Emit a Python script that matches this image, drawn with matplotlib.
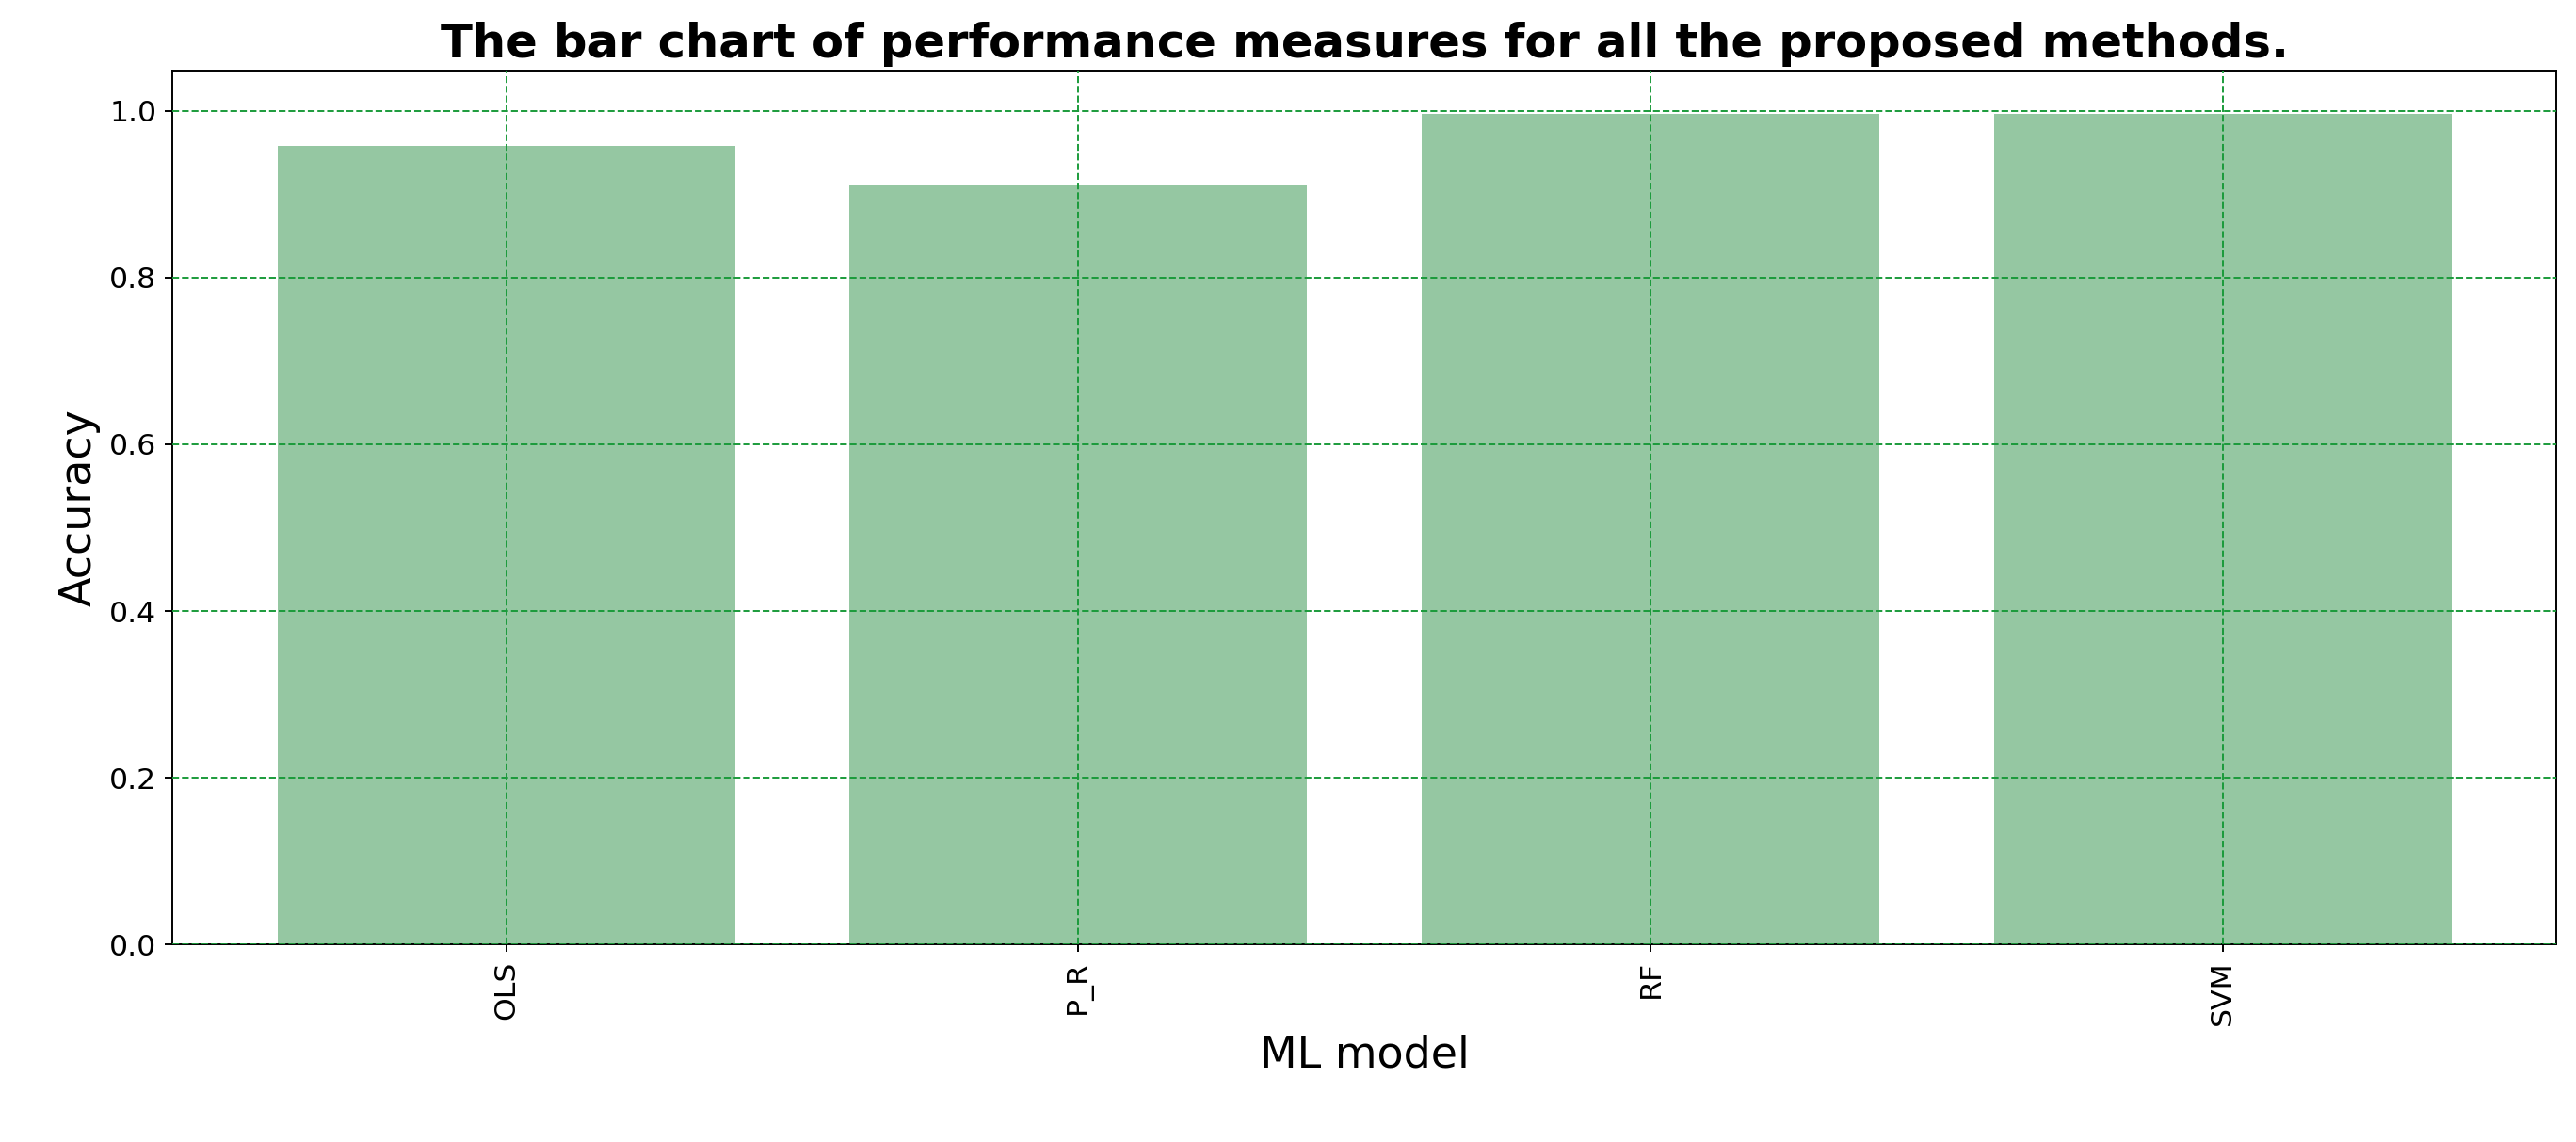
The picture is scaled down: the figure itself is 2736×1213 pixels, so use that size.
import matplotlib
matplotlib.use("Agg")
import matplotlib.pyplot as plt

models = ["OLS", "P_R", "RF", "SVM"]
accuracy = [0.958, 0.910, 0.996, 0.996]

fig = plt.figure(figsize=(15.68, 6.95), dpi=174.55)
ax = fig.add_axes([0.067, 0.173, 0.925, 0.765])
ax.bar(models, accuracy, width=0.8, color="#95c7a2", zorder=1)
ax.grid(True, color="#1a9a3a", linestyle="--", linewidth=0.8, zorder=3)
ax.set_axisbelow(False)
ax.set_ylim(0, 1.048)
ax.set_xlim(-0.583, 3.583)
ax.tick_params(axis="x", labelrotation=90, labelsize=13)
ax.tick_params(axis="y", labelsize=13)
ax.set_xlabel("ML model", fontsize=19)
ax.set_ylabel("Accuracy", fontsize=19)
ax.set_title("The bar chart of performance measures for all the proposed methods.",
             fontsize=20.5, fontweight="bold")
fig.savefig("out.png")
